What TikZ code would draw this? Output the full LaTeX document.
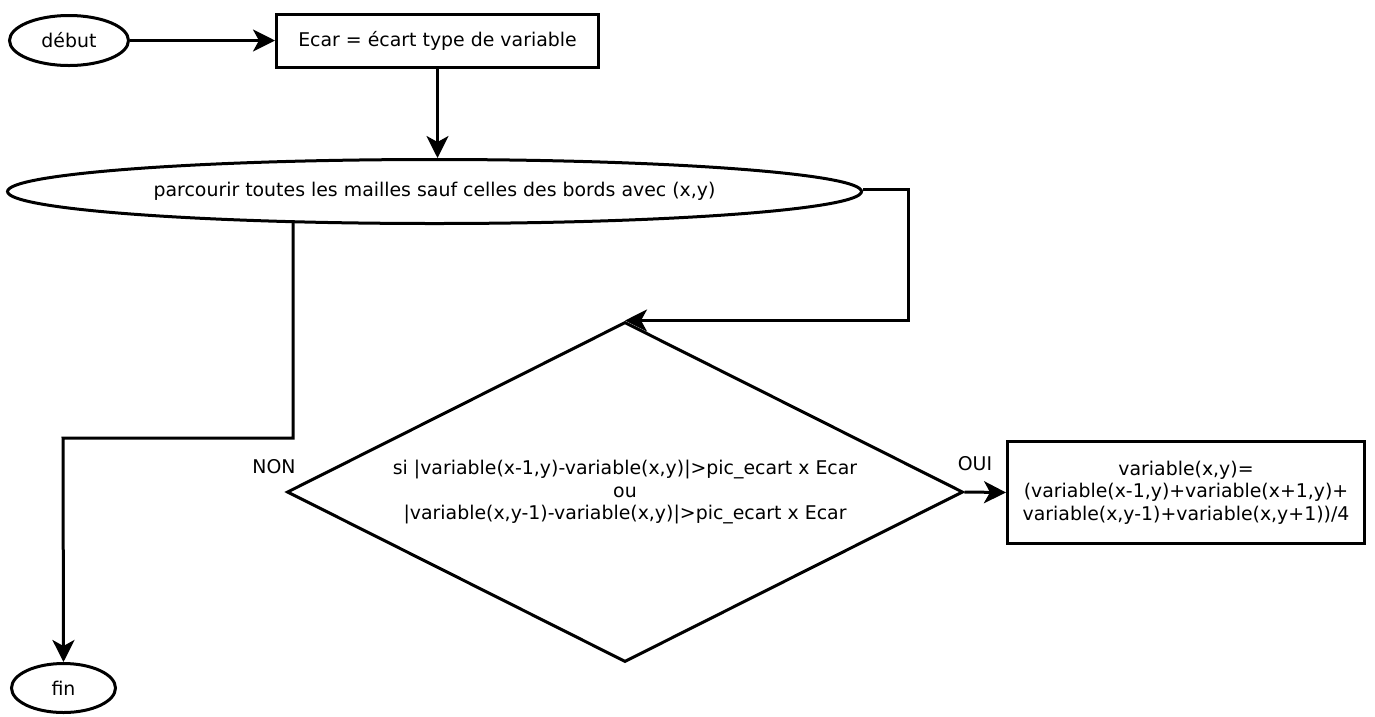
\documentclass[tikz,border=0pt]{standalone}
\usepackage{fontspec}
\setmainfont{DejaVu Sans}
\usetikzlibrary{shapes.geometric,arrows.meta,calc}
\begin{document}
\begin{tikzpicture}[x=1pt,y=-1pt,
  every node/.style={font=\fontsize{18.9}{22.7}\selectfont},
  box/.style={draw,line width=3pt,rectangle,inner sep=0pt,align=center},
  oval/.style={draw,line width=3pt,ellipse,inner sep=0pt},
  decision/.style={draw,line width=3pt,diamond,inner sep=0pt,align=center,aspect=1.988},
  arr/.style={line width=3pt,-{Stealth[length=22pt,width=22pt,inset=6pt]}},
  lbl/.style={inner sep=0pt}]
\useasboundingbox (0,0) rectangle (1375,716);
\node[oval,minimum width=119pt,minimum height=50pt] (debut) at (69,40.5) {début};
\node[box,minimum width=322pt,minimum height=53pt] (ecar) at (437.5,40.5) {Ecar = écart type de variable};
\node[oval,minimum width=854pt,minimum height=64pt] (parc) at (434.5,191.5) {parcourir toutes les mailles sauf celles des bords avec (x,y)};
\node[decision,minimum width=676pt,minimum height=340pt] (dia) at (625,492)
  {si |variable(x-1,y)-variable(x,y)|>pic\_ecart x Ecar\\ou\\|variable(x,y-1)-variable(x,y)|>pic\_ecart x Ecar};
\node[box,minimum width=357pt,minimum height=102pt] (calc) at (1186,492.5)
  {variable(x,y)=\\(variable(x-1,y)+variable(x+1,y)+\\variable(x,y-1)+variable(x,y+1))/4};
\node[oval,minimum width=104pt,minimum height=49pt] (fin) at (63.5,688) {fin};
\node[lbl] (non) at (274,467) {NON};
\node[lbl] (oui) at (975,464) {OUI};
\coordinate (r1) at (908,189);
\coordinate (k1) at (63,438);
\draw[arr] (debut.east) -- (debut.east -| ecar.west);
\draw[arr] (ecar.south) -- (ecar.south |- parc.north);
\draw[arr] (parc.east |- r1) -- (r1) |- (dia.north);
\draw[arr] ($(parc.center)+(-141.5,29)$) |- (k1) -- (fin.north);
\draw[arr] (dia.east) -- (calc.west);
\end{tikzpicture}
\end{document}
